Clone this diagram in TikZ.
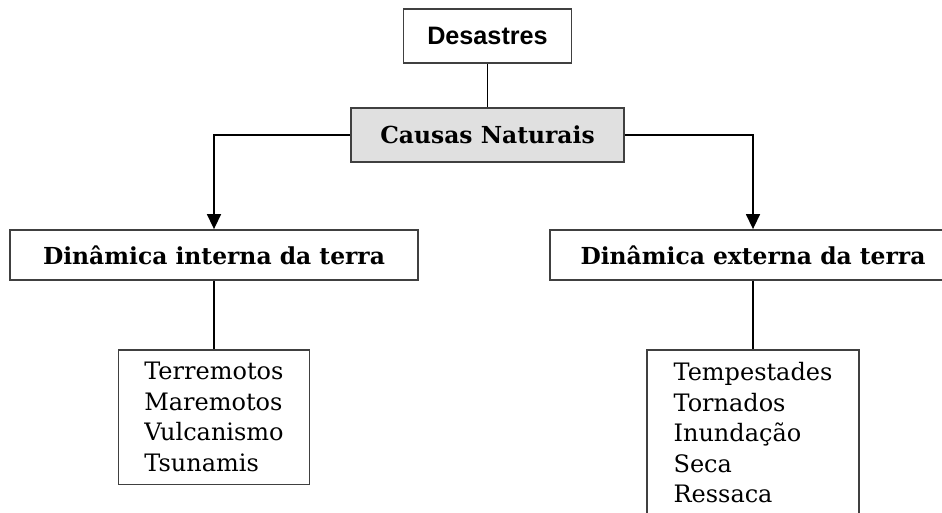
\documentclass[tikz,border=0pt]{standalone}
\usepackage{fontspec}
\setmainfont{DejaVu Serif}
\newfontfamily\headfont{Liberation Sans}
\usetikzlibrary{arrows.meta}
\definecolor{framegray}{rgb}{0.25 0.25 0.25}
\definecolor{causegray}{rgb}{0.88 0.88 0.88}

\begin{document}
\begin{tikzpicture}[x=0.5pt,y=-0.5pt,
  box/.style={draw=framegray,line width=0.9pt,inner sep=0pt},
  boldbox/.style={box,font=\bfseries\fontsize{11.7}{14}\selectfont},
  listbox/.style={draw=framegray,line width=0.9pt,align=left,anchor=north,
    inner xsep=0pt,inner ysep=6.3pt,font=\fontsize{12}{15.25}\selectfont},
  link/.style={line width=0.75pt},
  arrowlink/.style={link,-{Triangle[width=7pt,length=7.5pt]}}]
\clip (0,0) rectangle (942,513);
% top of the tree
\node[box,minimum width=84pt,minimum height=27pt,
  font=\headfont\bfseries\fontsize{12.6}{15}\selectfont] (des) at (487.5,36) {Desastres};
\node[boldbox,fill=causegray,minimum width=136.5pt,minimum height=27pt] (nat) at (487.5,135) {Causas Naturais};
% the two branches
\node[boldbox,minimum width=204pt,minimum height=25pt] (int) at (214,255) {Dinâmica interna da terra};
\node[boldbox,minimum width=203pt,minimum height=25pt] (ext) at (753,255) {Dinâmica externa da terra};
% lists
\node[listbox,minimum width=95.5pt] (intlist) at (214,349) {Terremotos\\Maremotos\\Vulcanismo\\Tsunamis};
\node[listbox,minimum width=106pt] (extlist) at (753,349) {Tempestades\\Tornados\\Inundação\\Seca\\Ressaca};
% connectors
\draw[link] (des.south) -- (nat.north);
\draw[arrowlink] (nat.west) -| (int.north);
\draw[arrowlink] (nat.east) -| (ext.north);
\draw[link] (int.south) -- (intlist.north);
\draw[link] (ext.south) -- (extlist.north);
\end{tikzpicture}
\end{document}
